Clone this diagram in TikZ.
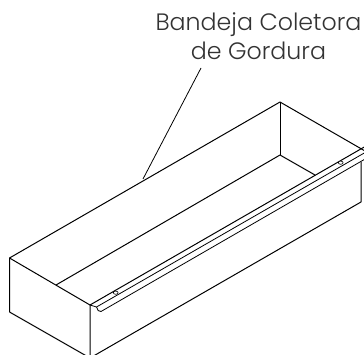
\documentclass[tikz,border=0pt]{standalone}
\usepackage{fontspec}
\setmainfont{Poppins Light}
\tikzset{
  edge/.style={draw=black,line width=1pt,line join=round},
  thin edge/.style={draw=black,line width=0.8pt,line join=round},
  screw/.style={draw=black,line width=0.6pt,fill=white},
  labeltext/.style={text=black!80,font=\fontsize{23.7}{29}\selectfont,align=center,inner sep=0pt}
}
\begin{document}
\begin{tikzpicture}[x=1pt,y=-1pt]
\useasboundingbox (0,0) rectangle (364,355);
\clip (0,0) rectangle (364,355);
% corners
\coordinate (LT) at (9.5,258);
\coordinate (LB) at (9.5,312);
\coordinate (FT) at (90,305);
\coordinate (FB) at (90,358);
\coordinate (BT) at (280,102);
\coordinate (BB) at (280,155);
\coordinate (RT) at (365,151);
\coordinate (RV) at (361,162);
\coordinate (RB) at (361,202);
\coordinate (IF) at (56,285);
\coordinate (IR) at (315,175);
\coordinate (R1) at (366,146);
\coordinate (R2a) at (96.5,307);
\coordinate (R2) at (366,152);
\coordinate (R3) at (366,158.5);
\coordinate (LE) at (143,179);
\coordinate (LS) at (201,68);
% outer box
\draw[edge] (LB) -- (LT) -- (BT) -- (RT);
\draw[edge] (LT) -- (FT) -- (FB);
\draw[edge] (LB) -- (FB);
\draw[edge] (FB) -- (RB) -- (RV);
% inner lines
\draw[edge] (BT) -- (BB);
\draw[edge] (IF) -- (BB) -- (IR);
% rail
\draw[edge] (FT) -- (R1);
\draw[thin edge] (FT) -- (R2a) -- (R2);
\draw[thin edge] (R2a) .. controls (97.5,310) and (98.5,312) .. (101,311.5) -- (R3);
% screws
\draw[screw] (115.7,292.7) ellipse (2.4 and 1.6);
\draw[screw] (340.7,162.7) ellipse (2.4 and 1.6);
% label
\node[labeltext,anchor=base] (lbl) at (258.5,60) {Bandeja Coletora\\de Gordura};
\draw[thin edge] (LS) -- (LE);
\end{tikzpicture}
\end{document}
